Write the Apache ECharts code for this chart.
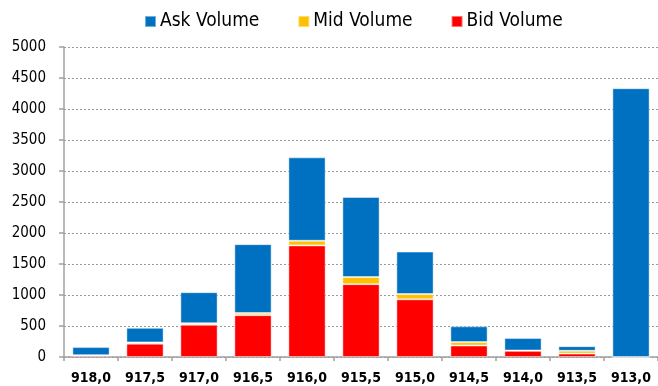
<!DOCTYPE html>
<html>
<head>
<meta charset="utf-8">
<script src="https://cdn.jsdelivr.net/npm/echarts@6/dist/echarts.min.js"></script>
<style>
  html, body { margin: 0; padding: 0; background: #fff; }
  #chart { width: 658px; height: 386px; }
</style>
</head>
<body>
<div id="chart"></div>
<script>
// Price levels (descending) and traded volume split by aggressor side
const priceLevels = ['918,0', '917,5', '917,0', '916,5', '916,0', '915,5', '915,0', '914,5', '914,0', '913,5', '913,0'];
const bidVolume = [25, 215, 520, 675, 1800, 1175, 930, 185, 100, 55, 0];
const midVolume = [5, 20, 25, 35, 75, 115, 85, 55, 5, 45, 0];
const askVolume = [130, 235, 500, 1110, 1345, 1290, 685, 255, 200, 75, 4335];
const yTicks = { min: 0, max: 5000, step: 500 };

const FONT = '"DejaVu Sans Condensed", "DejaVu Sans", sans-serif';
const barBorder = { borderColor: 'rgba(255,255,255,0.45)', borderWidth: 1 };

const chart = echarts.init(document.getElementById('chart'), null, { renderer: 'canvas' });

chart.setOption({
  animation: false,
  textStyle: { fontFamily: FONT },
  legend: {
    top: 7,
    left: 139,
    itemWidth: 11,
    itemHeight: 11,
    itemGap: 38,
    icon: 'rect',
    data: ['Ask Volume', 'Mid Volume', 'Bid Volume'],
    textStyle: { fontFamily: FONT, fontSize: 19, color: '#000', padding: [0, 0, 0, -1] }
  },
  grid: { left: 64, right: 0, top: 47, bottom: 29, containLabel: false },
  xAxis: {
    type: 'category',
    data: priceLevels,
    axisLine: { lineStyle: { color: '#a0a0a0', width: 1.5 } },
    axisTick: { show: true, length: 4, lineStyle: { color: '#a0a0a0', width: 1.5 } },
    axisLabel: { fontFamily: FONT, fontWeight: 'bold', fontSize: 14, color: '#000', margin: 14, interval: 0 }
  },
  yAxis: {
    type: 'value',
    min: yTicks.min,
    max: yTicks.max,
    interval: yTicks.step,
    axisLine: { show: true, lineStyle: { color: '#a0a0a0', width: 1.5 } },
    axisTick: { show: true, length: 5, lineStyle: { color: '#a0a0a0', width: 1.5 } },
    axisLabel: { fontFamily: FONT, fontSize: 15, color: '#000', margin: 18, formatter: v => String(v) },
    splitLine: { show: true, lineStyle: { color: '#999999', type: [2, 2], width: 1 } }
  },
  series: [
    {
      name: 'Bid Volume', type: 'bar', stack: 'vol', data: bidVolume,
      barCategoryGap: '31%',
      itemStyle: Object.assign({ color: '#FF0000' }, barBorder)
    },
    {
      name: 'Mid Volume', type: 'bar', stack: 'vol', data: midVolume,
      barCategoryGap: '31%',
      itemStyle: Object.assign({ color: '#FFC000' }, barBorder)
    },
    {
      name: 'Ask Volume', type: 'bar', stack: 'vol', data: askVolume,
      barCategoryGap: '31%',
      itemStyle: Object.assign({ color: '#0070C0' }, barBorder)
    }
  ]
});
</script>
</body>
</html>
